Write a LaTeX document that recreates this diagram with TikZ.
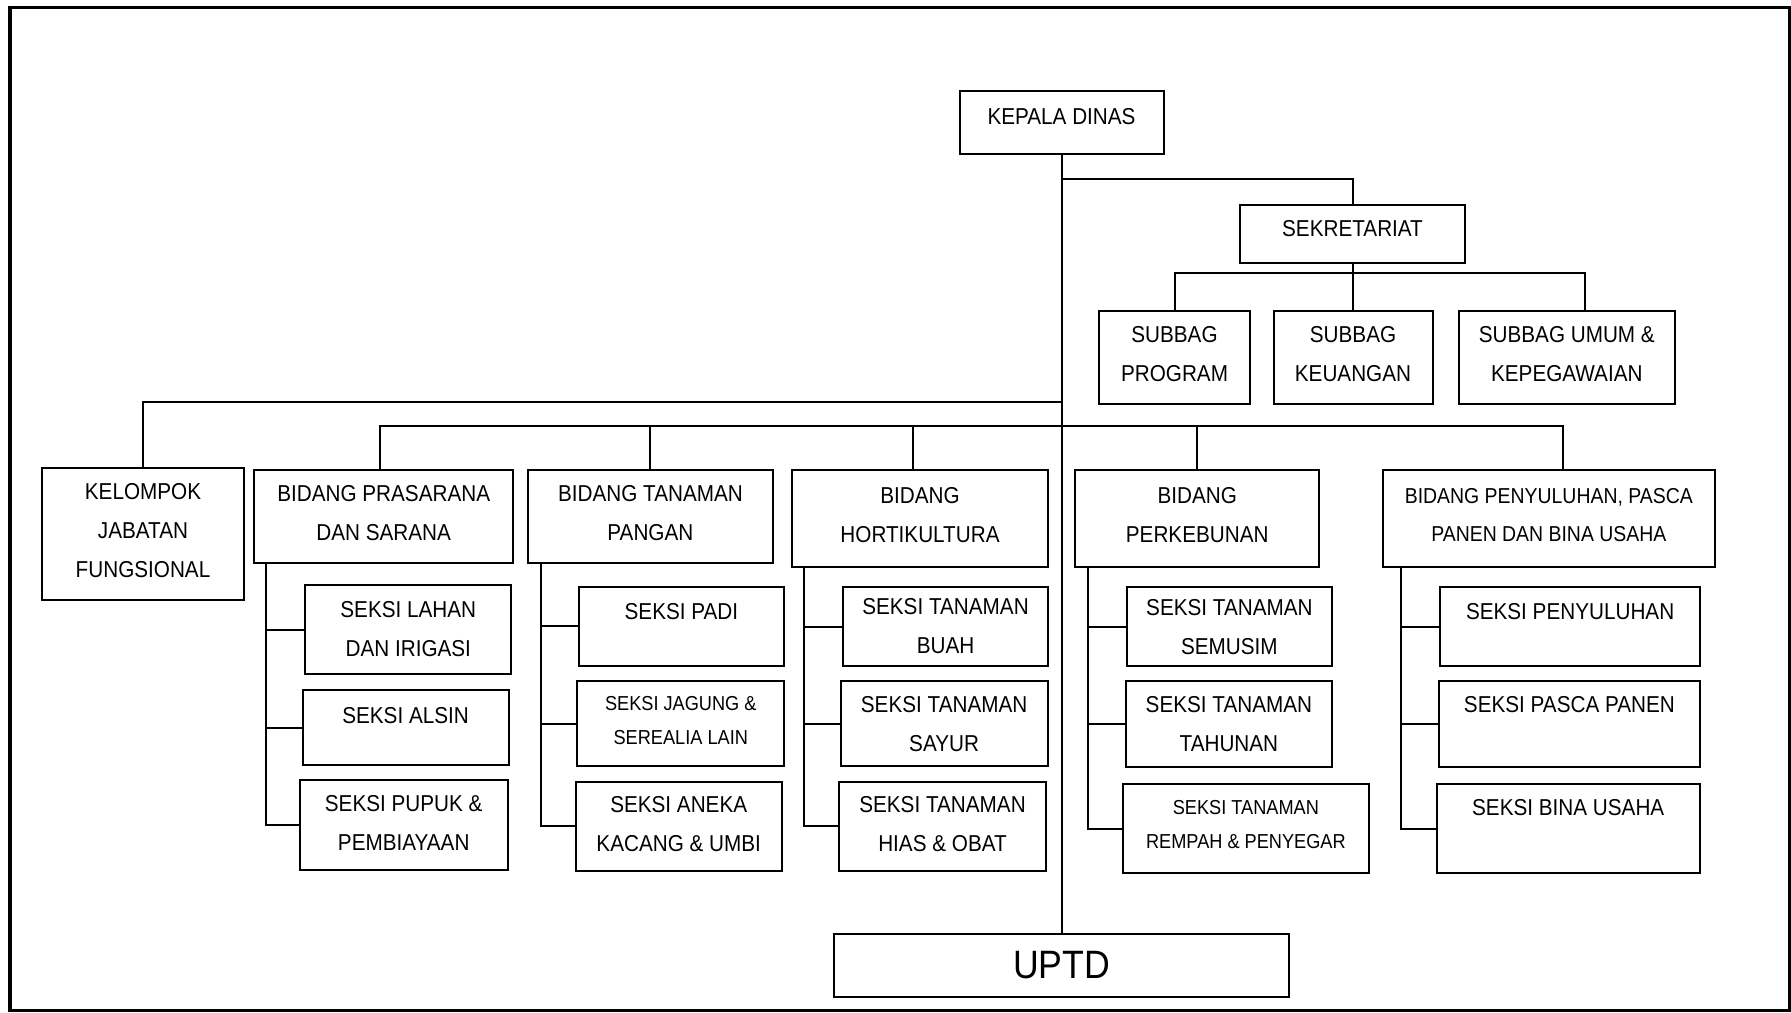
\documentclass[tikz,border=0pt]{standalone}
\usepackage{fontspec}
\setmainfont{Liberation Sans}[FakeStretch=0.9]
\usepackage{tikz}

\begin{document}
\begin{tikzpicture}
    [x=0.5pt, y=-0.5pt,
 kotak/.style ={rectangle, draw=black, line width=1pt, align=center, inner sep=0pt, font=\fontsize{11.5}{19.5}\selectfont},
 kecil/.style ={font=\fontsize{10.1}{17.2}\selectfont},
 sedang/.style ={font=\fontsize{10.8}{18.8}\selectfont},
 naik/.style ={text depth=3.4pt},
 garis/.style ={draw=black, line width=1pt}]
        \useasboundingbox (0,0) rectangle (1791,1012);
        \draw[line width=1.6pt] (10,7.5) rectangle (1789.5,1010.5);
        \node[kotak, minimum width=102pt, minimum height=31.5pt, text depth=6pt] (kepala) at (1061.5,122.5) {KEPALA DINAS};
        \node[kotak, minimum width=112.5pt, minimum height=29pt, text depth=6pt] (sekr) at (1352.5,234) {SEKRETARIAT};
        \node[kotak, naik, minimum width=75.5pt, minimum height=46.5pt] (prog) at (1174.5,357.5) {SUBBAG\\PROGRAM};
        \node[kotak, naik, minimum width=79.5pt, minimum height=46.5pt] (keu) at (1353,357.5) {SUBBAG\\KEUANGAN};
        \node[kotak, naik, minimum width=108.3pt, minimum height=46.5pt] (umum) at (1566.8,357.5) {SUBBAG UMUM \&\\KEPEGAWAIAN};
        \node[kotak, naik, minimum width=101pt, minimum height=66pt] (kelompok) at (143,534) {KELOMPOK\\JABATAN\\FUNGSIONAL};
        \node[kotak, naik, minimum width=129.3pt, minimum height=46.5pt] (bpras) at (383.7,516.5) {BIDANG PRASARANA\\DAN SARANA};
        \node[kotak, naik, minimum width=122.8pt, minimum height=46.5pt] (bpangan) at (650.4,516.5) {BIDANG TANAMAN\\PANGAN};
        \node[kotak, naik, minimum width=127.6pt, minimum height=48.5pt] (bhorti) at (920,518.5) {BIDANG\\HORTIKULTURA};
        \node[kotak, naik, minimum width=122.2pt, minimum height=48.5pt] (bkebun) at (1197.2,518.5) {BIDANG\\PERKEBUNAN};
        \node[kotak, naik, sedang, minimum width=166.2pt, minimum height=48.5pt] (bsuluh) at (1548.8,518.5) {BIDANG PENYULUHAN, PASCA\\PANEN DAN BINA USAHA};
        \node[kotak, minimum width=103pt, minimum height=44.2pt] (lahan) at (408.3,629.5) {SEKSI LAHAN\\DAN IRIGASI};
        \node[kotak, minimum width=103pt, minimum height=37.5pt, text depth=12.5pt] (alsin) at (405.6,727.5) {SEKSI ALSIN};
        \node[kotak, minimum width=103.8pt, minimum height=45pt, text depth=2pt] (pupuk) at (403.7,825) {SEKSI PUPUK \&\\PEMBIAYAAN};
        \node[kotak, minimum width=102.9pt, minimum height=39.7pt, text depth=15.3pt] (padi) at (681.4,626.3) {SEKSI PADI};
        \node[kotak, kecil, minimum width=103.5pt, minimum height=42.7pt, text depth=3pt] (jagung) at (680.8,723.7) {SEKSI JAGUNG \&\\SEREALIA LAIN};
        \node[kotak, minimum width=103pt, minimum height=44.7pt, text depth=2pt] (aneka) at (678.7,826.3) {SEKSI ANEKA\\KACANG \& UMBI};
        \node[kotak, minimum width=102.2pt, minimum height=39.5pt] (buah) at (945.5,626.5) {SEKSI TANAMAN\\BUAH};
        \node[kotak, minimum width=103.5pt, minimum height=42.7pt] (sayur) at (944.1,723.7) {SEKSI TANAMAN\\SAYUR};
        \node[kotak, minimum width=103.5pt, minimum height=44.7pt, text depth=2pt] (hias) at (942.5,826.3) {SEKSI TANAMAN\\HIAS \& OBAT};
        \node[kotak, minimum width=102.4pt, minimum height=39.7pt] (semusim) at (1229.4,626.7) {SEKSI TANAMAN\\SEMUSIM};
        \node[kotak, minimum width=102.8pt, minimum height=42.9pt] (tahunan) at (1228.9,723.8) {SEKSI TANAMAN\\TAHUNAN};
        \node[kotak, kecil, minimum width=122.6pt, minimum height=44.2pt, text depth=4pt] (rempah) at (1245.9,828.5) {SEKSI TANAMAN\\REMPAH \& PENYEGAR};
        \node[kotak, minimum width=129.7pt, minimum height=39.7pt, text depth=15.7pt] (penyuluhan) at (1570.1,626.7) {SEKSI PENYULUHAN};
        \node[kotak, minimum width=130.4pt, minimum height=42.9pt, text depth=19.8pt] (pasca) at (1569.4,723.8) {SEKSI PASCA PANEN};
        \node[kotak, minimum width=131.6pt, minimum height=44.2pt, text depth=21.2pt] (bina) at (1568.2,828.5) {SEKSI BINA USAHA};
        \node[kotak, minimum width=227.5pt, minimum height=31.5pt, font=\fontsize{19.8}{24}\selectfont] (uptd) at (1061.5,965.5) {UPTD};
        \draw[garis] (kepala) -- (uptd);
        \draw[garis] (kepala.south) ++(0,24) -| (sekr.north);
        \foreach \s in {prog,keu}
            \draw[garis] (sekr.south) -- ++(0,9) -| (\s.north);
        \draw[garis] (sekr.south) -- ++(0,9) -| ([xshift=9pt]umum.north);
        \draw[garis] (kepala.south) ++(0,247) -| (kelompok.north);
        \foreach \b/\dx in {bpras/-2,bpangan/0,bhorti/-3.75,bkebun/0,bsuluh/7}
            \draw[garis] (kepala.south) ++(0,271) -| ([xshift=\dx pt]\b.north);
        \foreach \s in {lahan,alsin,pupuk}
            \draw[garis] ([xshift=6.25pt]bpras.south west) |- (\s.west);
        \foreach \s in {padi,jagung,aneka}
            \draw[garis] ([xshift=7pt]bpangan.south west) |- (\s.west);
        \foreach \s in {buah,sayur,hias}
            \draw[garis] ([xshift=6.3pt]bhorti.south west) |- (\s.west);
        \foreach \s in {semusim,tahunan,rempah}
            \draw[garis] ([xshift=6.9pt]bkebun.south west) |- (\s.west);
        \foreach \s in {penyuluhan,pasca,bina}
            \draw[garis] ([xshift=9.65pt]bsuluh.south west) |- (\s.west);
    \end{tikzpicture}
\end{document}
